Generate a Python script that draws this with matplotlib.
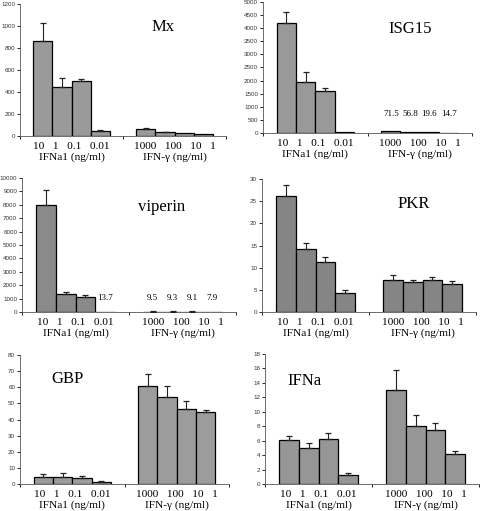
import matplotlib
matplotlib.use('Agg')
import matplotlib.pyplot as plt
from matplotlib.ticker import MultipleLocator

# ---- data ----
ifna1_doses = ['10', '1', '0.1', '0.01']
ifng_doses = ['1000', '100', '10', '1']
group_names = ['IFNa1 (ng/ml)', 'IFN-γ (ng/ml)']

mx_ifna1 = [867, 446, 503, 42]
mx_ifna1_err = [163, 84, 15, 9]
mx_ifng = [60, 33, 24, 15]
mx_ifng_err = [9, 6, 0, 0]

isg15_ifna1 = [4194, 1957, 1620, 45]
isg15_ifna1_err = [435, 390, 110, 0]
isg15_ifng = [71.5, 56.8, 19.6, 14.7]
isg15_ifng_err = [0, 0, 0, 0]

viperin_ifna1 = [7960, 1343, 1144, 13.7]
viperin_ifna1_err = [1120, 140, 100, 0]
viperin_ifng = [9.5, 9.3, 9.1, 7.9]
viperin_ifng_err = [80, 80, 80, 0]

pkr_ifna1 = [26.2, 14.2, 11.3, 4.3]
pkr_ifna1_err = [2.4, 1.3, 1.1, 0.7]
pkr_ifng = [7.3, 6.8, 7.2, 6.3]
pkr_ifng_err = [1.0, 0.5, 0.8, 0.6]

gbp_ifna1 = [4.6, 4.3, 3.8, 1.3]
gbp_ifna1_err = [1.5, 2.6, 1.1, 0.4]
gbp_ifng = [60.5, 54.0, 46.5, 44.5]
gbp_ifng_err = [7.5, 7.0, 4.8, 1.7]

ifna_ifna1 = [6.1, 5.0, 6.2, 1.3]
ifna_ifna1_err = [0.6, 0.7, 0.8, 0.25]
ifna_ifng = [13.0, 8.0, 7.5, 4.2]
ifna_ifng_err = [2.8, 1.5, 1.0, 0.4]

W, H = 480, 511
SERIF = ['Liberation Serif', 'DejaVu Serif']
SANS = ['Liberation Sans', 'DejaVu Sans']

# name, (left, top, right, bottom) in px, ymax, ystep, title pos px, bar colour, data, numbers above bars
panels = [
    ('Mx', (20, 4, 226, 136), 1200, 200, (163, 27), '#9a9a9a', mx_ifna1, mx_ifna1_err, mx_ifng, mx_ifng_err, None),
    ('ISG15', (263, 2, 472, 133), 5000, 500, (410, 29), '#999999', isg15_ifna1, isg15_ifna1_err, isg15_ifng, isg15_ifng_err, (725, [False] * 4, [True] * 4)),
    ('viperin', (22, 178, 236, 312), 10000, 1000, (162, 207), '#8a8a8a', viperin_ifna1, viperin_ifna1_err, viperin_ifng, viperin_ifng_err, (1050, [False, False, False, True], [True] * 4)),
    ('PKR', (262, 179, 476, 312), 30, 5, (414, 204), '#858585', pkr_ifna1, pkr_ifna1_err, pkr_ifng, pkr_ifng_err, None),
    ('GBP', (20, 355, 229, 484), 80, 10, (67, 379), '#9c9c9c', gbp_ifna1, gbp_ifna1_err, gbp_ifng, gbp_ifng_err, None),
    ('IFNa', (265, 354, 479, 484), 18, 2, (304, 381), '#969696', ifna_ifna1, ifna_ifna1_err, ifna_ifng, ifna_ifng_err, None),
]

bar_w = 0.185
offsets = [(i - 1.5) * bar_w for i in range(4)]

fig = plt.figure(figsize=(W / 100, H / 100), dpi=100)

for name, box, ymax, ystep, tpos, color, g1, g1err, g2, g2err, labels in panels:
    l, t, r, b = box
    ax = fig.add_axes([l / W, 1 - b / H, (r - l) / W, (b - t) / H])
    for gi, (vals, errs) in enumerate([(g1, g1err), (g2, g2err)]):
        xs = [gi + o for o in offsets]
        ax.bar(xs, vals, width=bar_w, color=color, edgecolor='black', linewidth=0.9, zorder=2)
        for x, v, e in zip(xs, vals, errs):
            if e > 0:
                ax.errorbar(x, v, yerr=[[0], [e]], fmt='none', ecolor='#222222',
                            elinewidth=0.8, capsize=2.5, capthick=0.9, zorder=3)
        # values written above the tiny bars
        if labels is not None:
            ly = labels[0]
            show = labels[1 + gi]
            for x, v, s in zip(xs, vals, show):
                if s:
                    ax.text(x, ly, f'{v}', ha='center', va='center', fontsize=6.5, family=SERIF)

    ax.set_xlim(-0.5, 1.5)
    ax.set_ylim(0, ymax)
    ax.yaxis.set_major_locator(MultipleLocator(ystep))
    ax.tick_params(axis='y', direction='out', length=2, width=0.6, labelsize=4.5,
                   labelcolor='#333333', pad=1.5)
    for lab in ax.get_yticklabels():
        lab.set_family(SANS)
    ax.set_xticks([0, 1])
    ax.set_xticklabels(['   '.join(ifna1_doses) + '\n' + group_names[0],
                        '   '.join(ifng_doses) + '\n' + group_names[1]],
                       family=SERIF, fontsize=8.2, linespacing=1.2)
    ax.tick_params(axis='x', which='major', length=0, pad=4)
    ax.set_xticks([-0.5, 0.5, 1.5], minor=True)
    ax.tick_params(axis='x', which='minor', direction='out', length=2.5, width=0.6)
    for side in ['top', 'right']:
        ax.spines[side].set_visible(False)
    for side in ['left', 'bottom']:
        ax.spines[side].set_linewidth(0.6)
        ax.spines[side].set_color('#555555')

    fig.text(tpos[0] / W, 1 - tpos[1] / H, name, ha='center', va='center',
             fontsize=12, family=SERIF)

fig.savefig('out.png', dpi=100)
